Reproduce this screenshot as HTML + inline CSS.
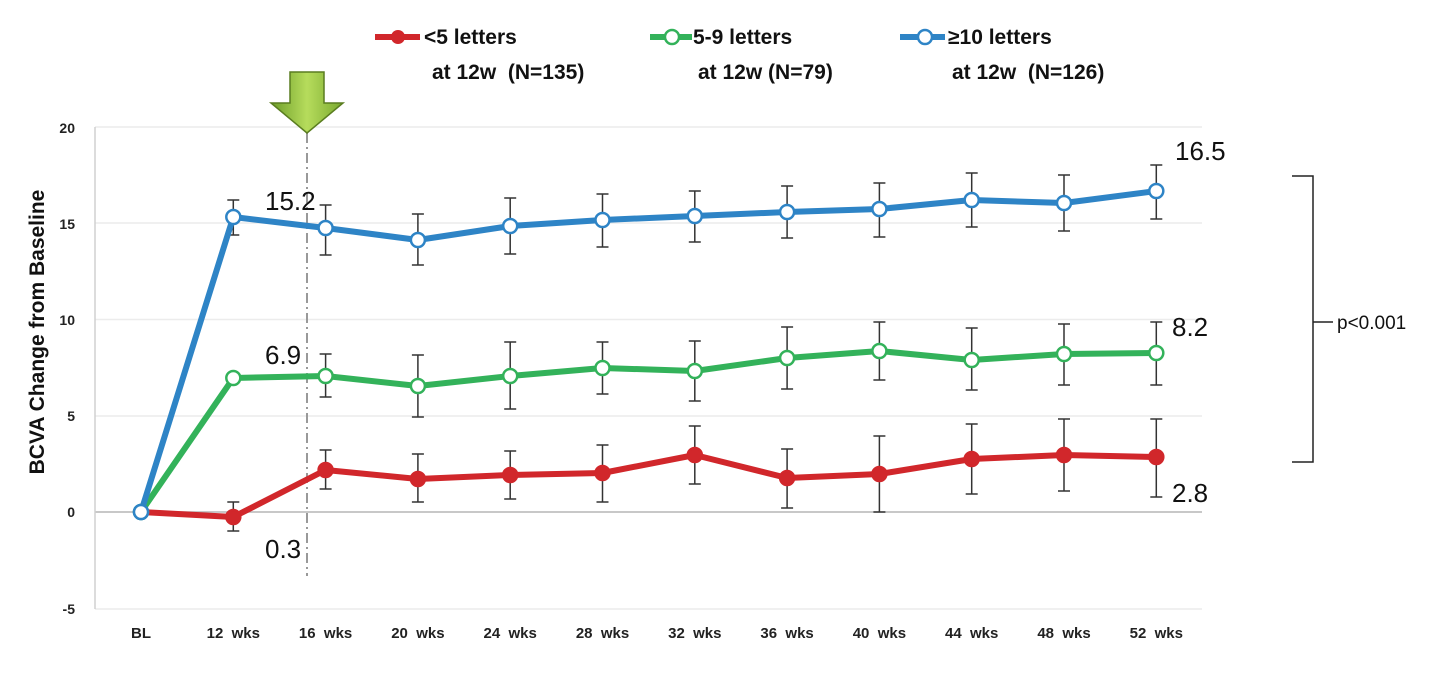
<!DOCTYPE html>
<html><head><meta charset="utf-8"><style>
html,body{margin:0;padding:0;background:#fff;width:1436px;height:674px;overflow:hidden}
svg{display:block;font-family:"Liberation Sans",sans-serif}
text{white-space:pre}
</style></head><body>
<svg id="s" width="1436" height="674" xmlns="http://www.w3.org/2000/svg">
<defs><linearGradient id="g" x1="0" y1="0" x2="1" y2="0"><stop offset="0" stop-color="#6e9e2a"/><stop offset="0.5" stop-color="#b6dc5c"/><stop offset="1" stop-color="#79a92f"/></linearGradient></defs>
<g stroke="#ececec" stroke-width="1.5">
<line x1="95" x2="1202" y1="127" y2="127"/><line x1="95" x2="1202" y1="223" y2="223"/><line x1="95" x2="1202" y1="319.5" y2="319.5"/><line x1="95" x2="1202" y1="416" y2="416"/><line x1="95" x2="1202" y1="609" y2="609"/>
</g>
<line x1="95" x2="1202" y1="512" y2="512" stroke="#b5b5b5" stroke-width="1.5"/>
<line x1="95" x2="95" y1="127" y2="609" stroke="#d0d0d0" stroke-width="1.5"/>
<g font-size="14" font-weight="bold" text-anchor="end" fill="#222">
<text x="75" y="133">20</text><text x="75" y="229">15</text><text x="75" y="325">10</text><text x="75" y="421">5</text><text x="75" y="517">0</text><text x="75" y="614">-5</text>
</g>
<text transform="translate(44,332) rotate(-90)" font-size="21" font-weight="bold" text-anchor="middle" fill="#111">BCVA Change from Baseline</text>
<line x1="307" x2="307" y1="133" y2="576" stroke="#999" stroke-width="2" stroke-dasharray="10,4,2,4"/>
<path d="M290,72 H324 V103 H343 L307,133 L271,103 H290 Z" fill="url(#g)" stroke="#5a7d20" stroke-width="1.5"/>
<g id="data"></g>
<g font-size="26" fill="#111">
<text x="265" y="210">15.2</text><text x="265" y="364">6.9</text><text x="265" y="558">0.3</text>
<text x="1175" y="160">16.5</text><text x="1172" y="336">8.2</text><text x="1172" y="502">2.8</text>
</g>
<path d="M1292,176 H1313 V462 H1292 M1313,322 H1333" fill="none" stroke="#222" stroke-width="1.5"/>
<text x="1337" y="329" font-size="19" fill="#111">p&lt;0.001</text>
<g font-size="15" font-weight="bold" text-anchor="middle" fill="#222" id="xl"></g>
<g font-size="21" font-weight="bold" fill="#111">
<line x1="375" x2="420" y1="37" y2="37" stroke="#d1272b" stroke-width="6"/><circle cx="398" cy="37" r="7" fill="#d1272b"/>
<text x="424" y="44">&lt;5 letters</text><text x="432" y="79">at 12w  (N=135)</text>
<line x1="650" x2="692" y1="37" y2="37" stroke="#33b25a" stroke-width="6"/><circle cx="672" cy="37" r="7" fill="#fff" stroke="#33b25a" stroke-width="2.5"/>
<text x="693" y="44">5-9 letters</text><text x="698" y="79">at 12w (N=79)</text>
<line x1="900" x2="945" y1="37" y2="37" stroke="#2e84c6" stroke-width="6"/><circle cx="925" cy="37" r="7" fill="#fff" stroke="#2e84c6" stroke-width="2.5"/>
<text x="948" y="44">≥10 letters</text><text x="952" y="79">at 12w  (N=126)</text>
</g>
</svg>
<script>
var ns="http://www.w3.org/2000/svg",d=document.getElementById("data");
function X(i){return 141+i*92.3}
function el(t,a){var e=document.createElementNS(ns,t);for(var k in a)e.setAttribute(k,a[k]);return e}
var xl=document.getElementById("xl");
["BL","12  wks","16  wks","20  wks","24  wks","28  wks","32  wks","36  wks","40  wks","44  wks","48  wks","52  wks"].forEach(function(t,i){var e=el("text",{x:X(i),y:638});e.textContent=t;xl.appendChild(e)});
var S=[
{c:"#d1272b",f:1,y:[512,517,470,479,475,473,455,478,474,459,455,457],e:[null,[502,531],[450,489],[454,502],[451,499],[445,502],[426,484],[449,508],[436,512],[424,494],[419,491],[419,497]]},
{c:"#33b25a",f:0,y:[512,378,376,386,376,368,371,358,351,360,354,353],e:[null,null,[354,397],[355,417],[342,409],[342,394],[341,401],[327,389],[322,380],[328,390],[324,385],[322,385]]},
{c:"#2e84c6",f:0,y:[512,217,228,240,226,220,216,212,209,200,203,191],e:[null,[200,235],[205,255],[214,265],[198,254],[194,247],[191,242],[186,238],[183,237],[173,227],[175,231],[165,219]]}];
S.forEach(function(s){s.e.forEach(function(b,i){if(!b)return;var x=X(i);d.appendChild(el("path",{d:"M"+x+","+b[0]+"V"+b[1]+"M"+(x-6)+","+b[0]+"H"+(x+6)+"M"+(x-6)+","+b[1]+"H"+(x+6),stroke:"#333","stroke-width":1.5,fill:"none"}))})});
S.forEach(function(s){d.appendChild(el("polyline",{points:s.y.map(function(y,i){return X(i)+","+y}).join(" "),fill:"none",stroke:s.c,"stroke-width":6,"stroke-linejoin":"round"}))});
S.forEach(function(s){s.y.forEach(function(y,i){if(i==0&&s.f)return;d.appendChild(el("circle",{cx:X(i),cy:y,r:7,fill:s.f?s.c:"#fff",stroke:s.c,"stroke-width":2.5}))})});
d.appendChild(el("circle",{cx:141,cy:512,r:7,fill:"#fff",stroke:"#2e84c6","stroke-width":2.5}));
</script>
</body></html>
